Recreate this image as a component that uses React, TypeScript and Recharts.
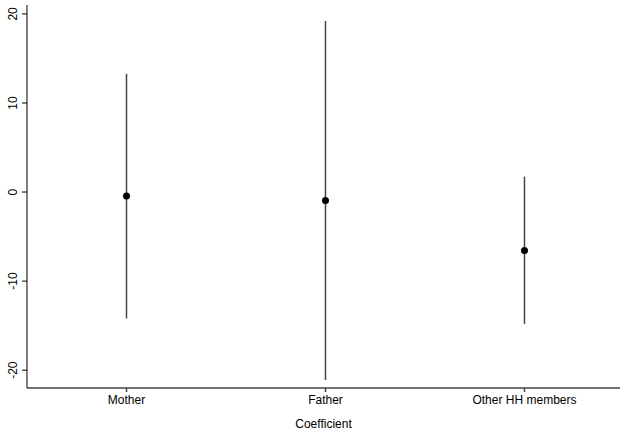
import React from "react";
import { ComposedChart, Scatter, XAxis, YAxis, ErrorBar } from "recharts";

const categories = ["Mother", "Father", "Other HH members"];
const estimates = [-0.43, -0.95, -6.57];
const lowerCI = [-14.2, -21.1, -14.8];
const upperCI = [13.27, 19.2, 1.74];
const yTicks = [-20, -10, 0, 10, 20];
const xPositions = [1, 2, 3];

const data = categories.map((name, i) => ({
  x: xPositions[i],
  name,
  est: estimates[i],
  err: [estimates[i] - lowerCI[i], upperCI[i] - estimates[i]],
}));

const FONT = "'Liberation Sans', Arial, sans-serif";

const YTick = (props: any) => {
  const { x, y, payload } = props;
  const cx = x - 2;
  return (
    <text
      x={cx}
      y={y}
      transform={`rotate(-90, ${cx}, ${y})`}
      textAnchor="middle"
      fontSize={12}
      fontFamily={FONT}
      fill="#000"
    >
      {payload.value}
    </text>
  );
};

export default function App() {
  return (
    <div style={{ position: "absolute", left: 0, top: 0 }}>
      <ComposedChart
        width={620}
        height={430}
        margin={{ top: 5, right: 0, bottom: 0, left: 0 }}
      >
        <XAxis
          type="number"
          dataKey="x"
          domain={[0.5, 3.48]}
          ticks={xPositions}
          allowDataOverflow
          tickFormatter={(v: number) => categories[v - 1]}
          height={42}
          tickSize={4}
          tickMargin={3}
          stroke="#444"
          strokeWidth={1.5}
          tick={{ fill: "#000", fontSize: 12, fontFamily: FONT }}
          label={{
            value: "Coefficient",
            position: "insideBottom",
            offset: 2,
            fill: "#000",
            fontSize: 12,
            fontFamily: FONT,
          }}
        />
        <YAxis
          type="number"
          domain={[-22, 21]}
          ticks={yTicks}
          allowDataOverflow
          width={27}
          tickSize={5}
          tickMargin={3}
          stroke="#000"
          tick={<YTick />}
        />
        <Scatter
          data={data}
          dataKey="est"
          isAnimationActive={false}
          shape={() => <g />}
        >
          <ErrorBar
            dataKey="err"
            direction="y"
            width={0}
            stroke="#444"
            strokeWidth={1.5}
            isAnimationActive={false}
          />
        </Scatter>
        <Scatter
          data={data}
          dataKey="est"
          isAnimationActive={false}
          shape={(p: any) => <circle cx={p.cx} cy={p.cy} r={3.5} fill="#000" />}
        />
      </ComposedChart>
    </div>
  );
}
